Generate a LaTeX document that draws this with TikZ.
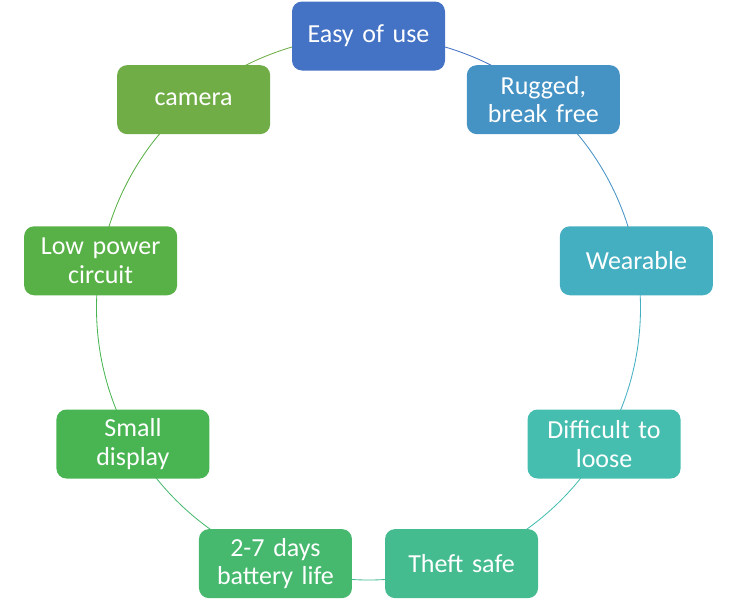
\documentclass[tikz,border=0pt]{standalone}
\usepackage{fontspec}
\setmainfont[WordSpace=0.8]{Carlito}
\usetikzlibrary{backgrounds}

\definecolor{cEasy}{HTML}{4472C4}
\definecolor{cRugged}{HTML}{4592C4}
\definecolor{cWear}{HTML}{45AFC2}
\definecolor{cDiff}{HTML}{45BEB0}
\definecolor{cTheft}{HTML}{45BC90}
\definecolor{cBatt}{HTML}{46B96E}
\definecolor{cSmall}{HTML}{48B552}
\definecolor{cLow}{HTML}{58B146}
\definecolor{cCam}{HTML}{70AD47}

\tikzset{
  item/.style={rounded corners=0.25cm, minimum width=3.825cm, minimum height=1.725cm,
    text width=3.6cm, align=center, text=white, inner sep=0pt,
    font=\fontsize{18.5}{20}\selectfont},
  ring/.style={line width=0.6pt}
}

\begin{document}
\begin{tikzpicture}
\useasboundingbox (-9.2125,-7.5) rectangle (9.1875,7.7);

\node[item, fill=cEasy] (easy) at (90:6.8) {Easy of use};
\node[item, fill=cRugged] (rugged) at (50:6.8) {Rugged,\\ break free};
\node[item, fill=cWear] (wear) at (10:6.8) {Wearable};
\node[item, fill=cDiff] (diff) at (-30:6.8) {Difficult to\\ loose};
\node[item, fill=cTheft] (theft) at (-70:6.8) {Theft safe};
\node[item, fill=cBatt] (batt) at (-110:6.8) {2-7 days\\ battery life};
\node[item, fill=cSmall] (small) at (-150:6.8) {Small\\ display};
\node[item, fill=cLow] (low) at (170:6.8) {Low power\\ circuit};
\node[item, fill=cCam] (cam) at (130:6.8) {camera};

\begin{scope}[on background layer]
\draw[ring, cEasy] (easy.center) arc[start angle=90, end angle=50, radius=6.8];
\draw[ring, cRugged] (rugged.center) arc[start angle=50, end angle=10, radius=6.8];
\draw[ring, cWear] (wear.center) arc[start angle=10, end angle=-30, radius=6.8];
\draw[ring, cDiff] (diff.center) arc[start angle=-30, end angle=-70, radius=6.8];
\draw[ring, cTheft] (theft.center) arc[start angle=-70, end angle=-110, radius=6.8];
\draw[ring, cBatt] (batt.center) arc[start angle=-110, end angle=-150, radius=6.8];
\draw[ring, cSmall] (small.center) arc[start angle=-150, end angle=-190, radius=6.8];
\draw[ring, cLow] (low.center) arc[start angle=170, end angle=130, radius=6.8];
\draw[ring, cCam] (cam.center) arc[start angle=130, end angle=90, radius=6.8];
\end{scope}
\end{tikzpicture}
\end{document}
